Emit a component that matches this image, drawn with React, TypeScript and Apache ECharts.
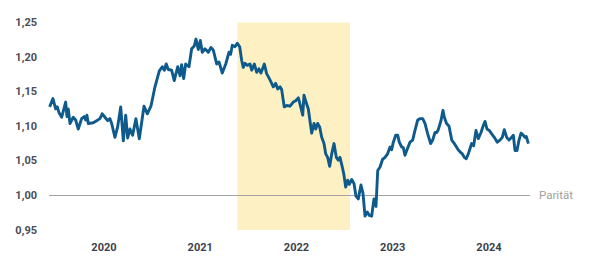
import React, { useEffect, useRef } from "react";
import * as echarts from "echarts";

// time in decimal years
const times: number[] = [
  2019.436, 2019.47, 2019.498, 2019.515, 2019.532, 2019.561, 2019.602, 2019.616, 2019.629, 2019.647,
  2019.681, 2019.706, 2019.733, 2019.768, 2019.795, 2019.81, 2019.823, 2019.837, 2019.889, 2019.924,
  2019.958, 2019.982, 2020.01, 2020.038, 2020.062, 2020.08, 2020.114, 2020.142, 2020.174, 2020.201,
  2020.226, 2020.246, 2020.27, 2020.298, 2020.332, 2020.367, 2020.416, 2020.45, 2020.488, 2020.53,
  2020.575, 2020.606, 2020.627, 2020.647, 2020.668, 2020.703, 2020.73, 2020.766, 2020.79, 2020.807,
  2020.828, 2020.849, 2020.883, 2020.911, 2020.938, 2020.956, 2020.98, 2021.001, 2021.021, 2021.049,
  2021.084, 2021.112, 2021.136, 2021.171, 2021.195, 2021.229, 2021.265, 2021.299, 2021.316, 2021.333,
  2021.361, 2021.385, 2021.41, 2021.431, 2021.447, 2021.465, 2021.489, 2021.517, 2021.535, 2021.562,
  2021.587, 2021.61, 2021.631, 2021.666, 2021.69, 2021.725, 2021.759, 2021.784, 2021.805, 2021.829,
  2021.846, 2021.873, 2021.898, 2021.933, 2021.967, 2021.992, 2022.019, 2022.044, 2022.065, 2022.078,
  2022.099, 2022.123, 2022.158, 2022.182, 2022.2, 2022.22, 2022.241, 2022.262, 2022.286, 2022.304,
  2022.324, 2022.345, 2022.366, 2022.39, 2022.414, 2022.434, 2022.452, 2022.476, 2022.494, 2022.511,
  2022.532, 2022.549, 2022.574, 2022.598, 2022.618, 2022.642, 2022.67, 2022.691, 2022.712, 2022.736,
  2022.757, 2022.781, 2022.805, 2022.826, 2022.844, 2022.868, 2022.894, 2022.92, 2022.946, 2022.972,
  2022.989, 2023.006, 2023.031, 2023.052, 2023.068, 2023.093, 2023.11, 2023.127, 2023.151, 2023.179,
  2023.207, 2023.231, 2023.259, 2023.286, 2023.311, 2023.335, 2023.363, 2023.394, 2023.415, 2023.439,
  2023.457, 2023.473, 2023.501, 2023.522, 2023.536, 2023.559, 2023.585, 2023.613, 2023.64, 2023.675,
  2023.699, 2023.723, 2023.744, 2023.764, 2023.785, 2023.82, 2023.841, 2023.865, 2023.889, 2023.917,
  2023.941, 2023.959, 2023.979, 2024.003, 2024.028, 2024.055, 2024.086, 2024.114, 2024.138, 2024.159,
  2024.184, 2024.208, 2024.229, 2024.253, 2024.27, 2024.291, 2024.312, 2024.333, 2024.357, 2024.374,
  2024.388, 2024.409,
];

// EUR/USD rate
const rates: number[] = [
  1.128, 1.14, 1.125, 1.128, 1.12, 1.113, 1.135, 1.114, 1.125, 1.104,
  1.113, 1.109, 1.096, 1.111, 1.114, 1.109, 1.116, 1.104, 1.105, 1.108,
  1.111, 1.118, 1.113, 1.108, 1.111, 1.104, 1.084, 1.099, 1.128, 1.079,
  1.116, 1.083, 1.096, 1.087, 1.111, 1.082, 1.129, 1.118, 1.129, 1.157,
  1.18, 1.186, 1.181, 1.19, 1.182, 1.181, 1.166, 1.186, 1.173, 1.189,
  1.169, 1.19, 1.186, 1.212, 1.216, 1.226, 1.211, 1.224, 1.207, 1.212,
  1.207, 1.214, 1.21, 1.19, 1.193, 1.177, 1.19, 1.207, 1.204, 1.217,
  1.215, 1.22, 1.215, 1.195, 1.185, 1.191, 1.188, 1.19, 1.181, 1.19,
  1.178, 1.183, 1.177, 1.19, 1.176, 1.167, 1.157, 1.162, 1.154, 1.157,
  1.153, 1.128, 1.13, 1.129, 1.135, 1.137, 1.141, 1.128, 1.116, 1.145,
  1.135, 1.125, 1.09, 1.104, 1.096, 1.104, 1.099, 1.084, 1.075, 1.06,
  1.055, 1.042, 1.06, 1.075, 1.055, 1.051, 1.055, 1.041, 1.029, 1.012,
  1.022, 1.016, 1.023, 1.017, 0.999, 0.995, 1.015, 1.003, 0.97, 0.976,
  0.971, 0.97, 0.995, 0.984, 1.036, 1.041, 1.052, 1.055, 1.06, 1.07,
  1.066, 1.077, 1.087, 1.087, 1.077, 1.07, 1.069, 1.058, 1.067, 1.077,
  1.08, 1.094, 1.109, 1.111, 1.111, 1.104, 1.089, 1.075, 1.08, 1.091,
  1.091, 1.095, 1.108, 1.123, 1.113, 1.104, 1.1, 1.08, 1.075, 1.067,
  1.063, 1.06, 1.055, 1.053, 1.06, 1.075, 1.072, 1.094, 1.082, 1.091,
  1.101, 1.107, 1.096, 1.094, 1.089, 1.084, 1.077, 1.08, 1.084, 1.095,
  1.084, 1.08, 1.083, 1.087, 1.065, 1.065, 1.08, 1.09, 1.087, 1.084,
  1.085, 1.075,
];

const yearTicks: number[] = [2020, 2021, 2022, 2023, 2024];
const highlightRange: number[] = [2021.385, 2022.556];
const parityValue = 1.0;
const parityLabel = "Parität";

export default function App() {
  const ref = useRef<HTMLDivElement>(null);

  useEffect(() => {
    document.body.style.margin = "0";
    if (!ref.current) return;
    const chart = echarts.init(ref.current, null, { renderer: "svg" });
    const data = times.map((t, i) => [t, rates[i]]);
    chart.setOption({
      animation: false,
      grid: { left: 49, right: 70, top: 22.5, bottom: 40, containLabel: false },
      xAxis: {
        type: "value",
        min: 2019.429,
        max: 2024.426,
        axisLine: { show: false },
        axisTick: { show: false },
        splitLine: { show: false },
        axisLabel: {
          customValues: yearTicks,
          formatter: (v: number) => String(Math.round(v)),
          color: "#3b3f4c",
          fontFamily: "Roboto",
          fontWeight: "bold",
          fontSize: 11,
          margin: 12,
        },
      },
      yAxis: {
        type: "value",
        min: 0.95,
        max: 1.25,
        interval: 0.05,
        axisLine: { show: false },
        axisTick: { show: false },
        splitLine: { show: false },
        axisLabel: {
          formatter: (v: number) => v.toFixed(2).replace(".", ","),
          color: "#4a4d5a",
          fontFamily: "Roboto",
          fontWeight: "bold",
          fontSize: 11,
          margin: 12,
        },
      },
      series: [
        {
          type: "line",
          data,
          showSymbol: false,
          symbol: "none",
          lineStyle: { color: "#0e5a8c", width: 2.9, join: "round" },
          z: 3,
          markArea: {
            silent: true,
            itemStyle: { color: "#fdf1c4" },
            data: [[{ xAxis: highlightRange[0] }, { xAxis: highlightRange[1] }]],
          },
          markLine: {
            silent: true,
            symbol: "none",
            lineStyle: { color: "#a3a3a3", width: 1, type: "solid" },
            label: {
              position: "end",
              formatter: parityLabel,
              color: "#a0a0a0",
              fontFamily: "Roboto",
              fontSize: 11.5,
              distance: 9,
            },
            data: [{ yAxis: parityValue }],
            z: 1,
          },
        },
      ],
    });
    return () => chart.dispose();
  }, []);

  return <div ref={ref} style={{ width: 600, height: 270 }} />;
}
